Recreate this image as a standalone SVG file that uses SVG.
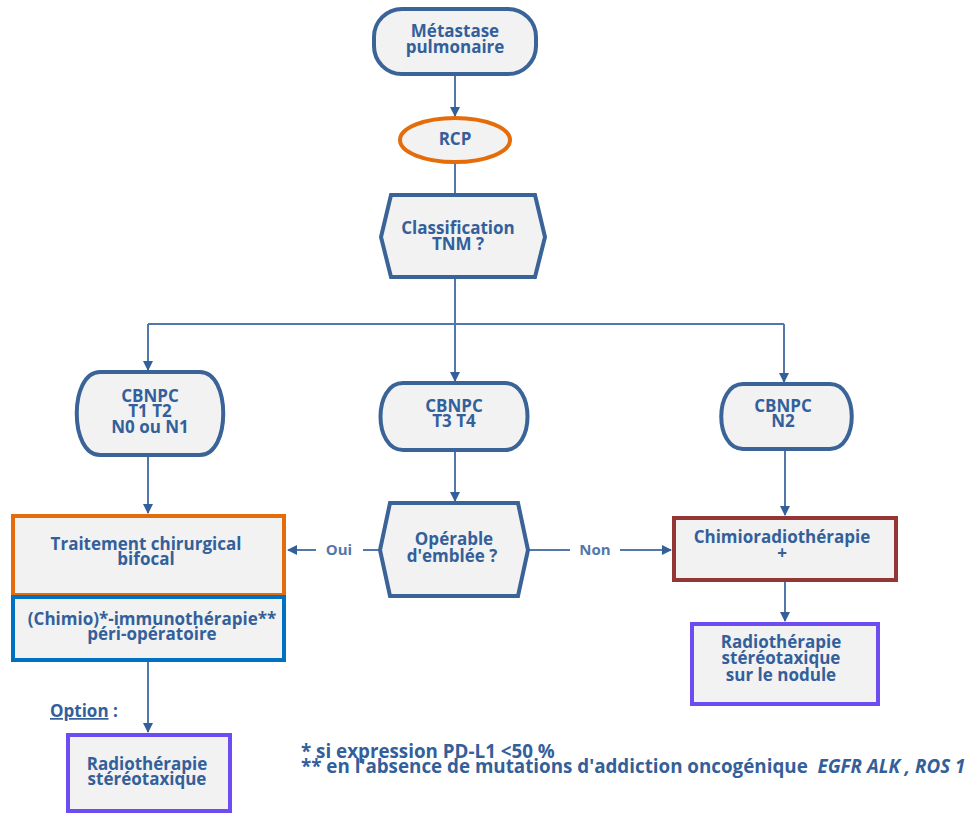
<svg xmlns="http://www.w3.org/2000/svg" width="972" height="816" viewBox="0 0 972 816">
<defs>
<marker id="arr" viewBox="0 0 10 10" refX="9" refY="5" markerWidth="10" markerHeight="10" markerUnits="userSpaceOnUse" orient="auto">
<path d="M0,0 L10,5 L0,10 z" fill="#34609a"/>
</marker>
<style>
.n{fill:#f2f2f2;stroke:#3a6397;stroke-width:4}
.c{fill:none;stroke:#5277aa;stroke-width:2}
.t{font-family:"Open Sans",Lato,sans-serif;font-weight:700;font-size:17px;fill:#33609a;text-anchor:middle}
.l{font-family:"Open Sans",Lato,sans-serif;font-weight:700;font-size:15px;fill:#5277aa;text-anchor:middle}
.f{font-family:"Open Sans",Lato,sans-serif;font-weight:700;font-size:18.8px;fill:#33609a}
</style>
</defs>
<rect width="972" height="816" fill="#ffffff"/>
<g id="connectors">
<path class="c" d="M455,75 V116" marker-end="url(#arr)"/>
<path class="c" d="M455,162 V195"/>
<path class="c" d="M455,279 V324"/>
<path class="c" d="M148,324 H784"/>
<path class="c" d="M148,324 V370" marker-end="url(#arr)"/>
<path class="c" d="M455,324 V381" marker-end="url(#arr)"/>
<path class="c" d="M784,324 V382" marker-end="url(#arr)"/>
<path class="c" d="M148,456 V513" marker-end="url(#arr)"/>
<path class="c" d="M455,451 V501" marker-end="url(#arr)"/>
<path class="c" d="M785,450 V515" marker-end="url(#arr)"/>
<path class="c" d="M380,550 H363"/>
<path class="c" d="M316,550 H288" marker-end="url(#arr)"/>
<text class="l" x="339" y="555">Oui</text>
<path class="c" d="M528,550 H570"/>
<path class="c" d="M620,550 H671" marker-end="url(#arr)"/>
<text class="l" x="595" y="555">Non</text>
<path class="c" d="M785,582 V621" marker-end="url(#arr)"/>
<path class="c" d="M148,662 V732" marker-end="url(#arr)"/>
</g>
<g id="n-metastase">
<rect class="n" x="374" y="9" width="162" height="65" rx="28"/>
<text class="t" x="455" y="37">Métastase</text>
<text class="t" x="455" y="53">pulmonaire</text>
</g>
<g id="n-rcp">
<ellipse cx="455" cy="140" rx="55" ry="22" fill="#f2f2f2" stroke="#e46c0a" stroke-width="4"/>
<text class="t" x="455" y="145">RCP</text>
</g>
<g id="n-tnm">
<path class="n" d="M391,195 H535 L545,237 L535,277 H391 L381,237 Z"/>
<text class="t" x="458" y="234">Classification</text>
<text class="t" x="458" y="250">TNM ?</text>
</g>
<g id="n-t1t2">
<path class="n" d="M100,372 H200 C231,372 231,455 200,455 H100 C69,455 69,372 100,372 Z"/>
<text class="t" x="150" y="402">CBNPC</text>
<text class="t" x="150" y="417">T1 T2</text>
<text class="t" x="150" y="433">N0 ou N1</text>
</g>
<g id="n-t3t4">
<path class="n" d="M403,383 H505 C535,383 535,450 505,450 H403 C373,450 373,383 403,383 Z"/>
<text class="t" x="454" y="412">CBNPC</text>
<text class="t" x="454" y="427">T3 T4</text>
</g>
<g id="n-n2">
<path class="n" d="M743,384 H830 C859,384 859,449 830,449 H743 C714,449 714,384 743,384 Z"/>
<text class="t" x="783" y="412">CBNPC</text>
<text class="t" x="783" y="427">N2</text>
</g>
<g id="n-traitement">
<rect x="13" y="516" width="271" height="79" fill="#f2f2f2" stroke="#e46c0a" stroke-width="4"/>
<text class="t" x="146" y="550">Traitement chirurgical</text>
<text class="t" x="146" y="565">bifocal</text>
</g>
<g id="n-immuno">
<rect x="13" y="597" width="271" height="63" fill="#f2f2f2" stroke="#0070c0" stroke-width="4"/>
<text class="t" x="152" y="625">(Chimio)*-immunothérapie**</text>
<text class="t" x="152" y="640">péri-opératoire</text>
</g>
<g id="n-operable">
<path class="n" d="M390,503 H518 L528,550 L518,596 H390 L380,550 Z"/>
<text class="t" x="454" y="545">Opérable</text>
<text class="t" x="452" y="562">d'emblée ?</text>
</g>
<g id="n-chimioradio">
<rect x="674" y="518" width="222" height="62" fill="#f2f2f2" stroke="#943634" stroke-width="4"/>
<text class="t" x="782" y="543">Chimioradiothérapie</text>
<text class="t" x="782" y="559">+</text>
</g>
<g id="n-radio-nodule">
<rect x="692" y="624" width="186" height="80" fill="#f2f2f2" stroke="#6d4cf2" stroke-width="4"/>
<text class="t" x="781" y="648">Radiothérapie</text>
<text class="t" x="781" y="664">stéréotaxique</text>
<text class="t" x="781" y="681">sur le nodule</text>
</g>
<g id="n-option">
<text class="t" x="50" y="717" style="text-anchor:start"><tspan text-decoration="underline">Option</tspan> :</text>
</g>
<g id="n-radio">
<rect x="68" y="735" width="162" height="76" fill="#f2f2f2" stroke="#6d4cf2" stroke-width="4"/>
<text class="t" x="147" y="770">Radiothérapie</text>
<text class="t" x="147" y="785">stéréotaxique</text>
</g>
<g id="footnotes">
<text class="f" x="301" y="758">* si expression PD-L1 &lt;50 %</text>
<text class="f" x="301" y="773" xml:space="preserve">** en l'absence de mutations d'addiction oncogénique  <tspan font-style="italic">EGFR ALK , ROS 1</tspan></text>
</g>
</svg>
